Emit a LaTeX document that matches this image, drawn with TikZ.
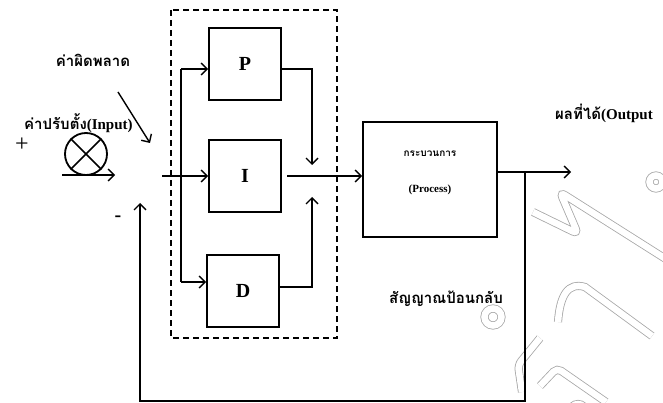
\documentclass[tikz,border=0pt]{standalone}
\usepackage{fontspec}
\setmainfont{Liberation Serif}
\newfontfamily\thaifont[Script=Thai]{Loma}
\usetikzlibrary{arrows.meta,calc}

\begin{document}
\begin{tikzpicture}[x=1pt,y=-1pt,
    ctrlbox/.style={draw, line width=2pt, minimum width=72pt, minimum height=72pt,
        inner sep=0pt, font=\fontsize{20}{20}\selectfont\bfseries},
    procbox/.style={draw, line width=2pt, minimum width=134pt, minimum height=115pt,
        inner sep=0pt},
    sig/.style={line width=1.4pt, -{Straight Barb[length=6pt,width=12pt,line width=1.4pt]}},
    wire/.style={line width=1.4pt},
    thlabel/.style={inner sep=0pt, font=\fontsize{15}{15}\selectfont\bfseries},
    proclabel/.style={inner sep=0pt, font=\fontsize{11}{11}\selectfont\bfseries},
    wmark/.style={draw=gray!70, line width=0.8pt, double=white, double distance=6.5pt}
]

% Picture frame
\useasboundingbox (0,0) rectangle (663,403);

% Watermark in the background
\draw[wmark, rounded corners=6pt] (533,212) -- (578,234) -- (560,192) -- (680,268);
\draw[wmark] (656,182) circle (6.5);
\draw[wmark] (558,322) .. controls (560,295) and (568,282) .. (585,287) -- (652,336);
\draw[wmark] (493,317) circle (8.5);
\draw[wmark, rounded corners=5pt] (540,338) -- (518,365) -- (522,392);
\draw[wmark, rounded corners=5pt] (540,386) -- (557,368) -- (606,402);
\draw[wmark] (578,412) circle (8);

% Dashed frame round the controller
\draw[line width=1.5pt, dash pattern=on 6pt off 4pt] (171,10) rectangle (337,338);

% Controller blocks
\foreach \name/\x/\y in {P/245/64, I/245/176, D/243/291} {
    \node[ctrlbox] (\name) at (\x,\y) {\name};
}

% Process block
\node[procbox] (proc) at (430,179.5) {};
\node[proclabel, font=\fontsize{10}{10}\selectfont\bfseries] (procth) at ($(proc.center)+(0,-26)$) {\thaifont กระบวนการ};
\node[proclabel] (procen) at ($(proc.center)+(0,10)$) {(Process)};

% Summing point
\node[draw, circle, line width=1.8pt, minimum size=42pt, inner sep=0pt] (sum) at (86,154) {};
\draw[line width=1.5pt] (sum.north west) -- (sum.south east);
\draw[line width=1.5pt] (sum.north east) -- (sum.south west);

% Labels
\node[thlabel] (errlabel) at (93,60) {\thaifont ค่าผิดพลาด};
\node[thlabel, anchor=west] (inlabel) at (24,123) {{\thaifont ค่าปรับตั้ง}(Input)};
\node[thlabel, anchor=west] (outlabel) at (555,113) {{\thaifont ผลที่ได้}(Output};
\node[thlabel, anchor=west] (fblabel) at (389,299) {\thaifont สัญญาณป้อนกลับ};
\node[font=\fontsize{24}{24}\selectfont] (plus) at (22,145) {+};
\node[font=\fontsize{20}{20}\selectfont\bfseries] (minus) at (118,219) {-};

% Input side arrows
\coordinate (errtail) at (118,92);
\coordinate (errtip) at (150,143);
\draw[sig] (errtail) -- (errtip);
\coordinate (intail) at (62,175);
\coordinate (intip) at (115,175);
\draw[sig] (intail) -- (intip);

% Split into P, I and D
\coordinate (pidin) at (162,176);
\coordinate (ptop) at (181,69);
\coordinate (dbot) at (181,282);
\draw[sig] (pidin) -- (I.west);
\draw[wire] (ptop) -- (dbot);
\draw[sig] (ptop) -- (ptop -| P.west);
\draw[sig] (dbot) -- (dbot -| D.west);

% Join of P, I and D
\coordinate (sumP) at (312,165);
\coordinate (sumD) at (312,197);
\draw[sig] ($(P.east)+(0,5)$) -| (sumP);
\draw[sig] ($(D.east)+(0,-4)$) -| (sumD);
\draw[sig] ($(I.east)+(5,0)$) -- (proc.west |- I.east);

% Output and feedback
\coordinate (outtip) at (571,172);
\coordinate (fbsplit) at (525,172);
\coordinate (fbcorner) at (525,401);
\coordinate (fbtip) at (140,203);
\draw[sig] (proc.east |- outtip) -- (outtip);
\draw[sig] (fbsplit) -- (fbcorner) -| (fbtip);

\end{tikzpicture}
\end{document}
